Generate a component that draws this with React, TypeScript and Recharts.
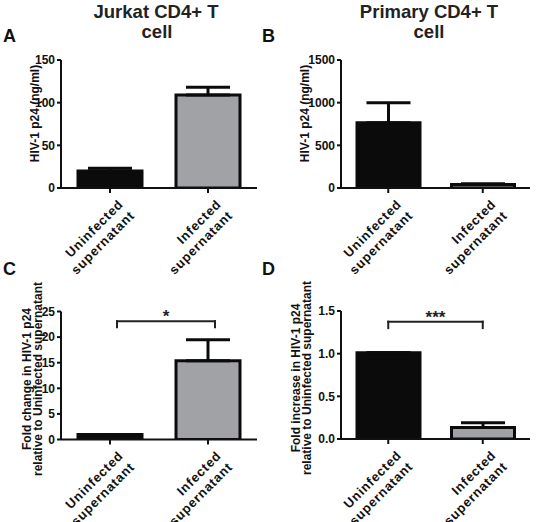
import React from 'react';
import { BarChart, Bar, XAxis, YAxis, Cell, ErrorBar, ReferenceLine } from 'recharts';

const FONT = "'Liberation Sans', Arial, Helvetica, sans-serif";

const categories = ['Uninfected', 'Infected'];
const categoryLines = [
  ['Uninfected', 'supernatant'],
  ['Infected', 'supernatant'],
];
const barColors = ['#0b0b0b', '#a1a2a6'];

// Panel A: Jurkat CD4+ T cell, HIV-1 p24 (ng/ml)
const jurkatP24 = [20, 109];
const jurkatP24Err = [3, 9];
const jurkatP24Ticks = [0, 50, 100, 150];

// Panel B: Primary CD4+ T cell, HIV-1 p24 (ng/ml)
const primaryP24 = [765, 42];
const primaryP24Err = [235, 8];
const primaryP24Ticks = [0, 500, 1000, 1500];

// Panel C: Jurkat fold change
const jurkatFold = [1, 15.4];
const jurkatFoldErr = [0, 4.1];
const jurkatFoldTicks = [0, 5, 10, 15, 20, 25];

// Panel D: Primary fold increase
const primaryFold = [1.01, 0.135];
const primaryFoldErr = [0, 0.055];
const primaryFoldTicks = [0, 0.5, 1.0, 1.5];

// significance brackets
const jurkatBracket = { top: 23.1, leg: 21.9, mark: '*' };
const primaryBracket = { top: 1.375, leg: 1.3, mark: '***' };

const buildRows = (vals: number[], errs: number[]) =>
  categories.map((name, i) => ({ name, value: vals[i], err: [0, errs[i]] }));

const XTick = (props: any) => {
  const { x, y, payload } = props;
  const lines = categoryLines[payload.index] || [String(payload.value)];
  return (
    <g transform={`translate(${x + 14},${y + 10})`}>
      <text
        transform="rotate(-45)"
        textAnchor="end"
        fontFamily={FONT}
        fontWeight="bold"
        fontSize={13}
        style={{ letterSpacing: '0.8px' }}
        fill="#111"
      >
        {lines.map((l: string, i: number) => (
          <tspan key={i} x={0} y={i * 16}>
            {l}
          </tspan>
        ))}
      </text>
    </g>
  );
};

const YLabel = (props: any) => {
  const { lines, cx, cy } = props;
  return (
    <g>
      {lines.map((l: string, i: number) => (
        <text
          key={i}
          x={cx[i]}
          y={cy}
          transform={`rotate(-90, ${cx[i]}, ${cy})`}
          textAnchor="middle"
          dominantBaseline="central"
          fontFamily={FONT}
          fontWeight="bold"
          fontSize={12}
          fill="#111"
        >
          {l}
        </text>
      ))}
    </g>
  );
};

const BracketLine = (p: any) => {
  const { x1, y1, x2, y2, dx, mark } = p;
  return (
    <g>
      <line
        x1={x1 + dx}
        y1={y1}
        x2={x2 + dx}
        y2={y2}
        stroke="#222"
        strokeWidth={2}
        strokeLinecap="square"
      />
      {mark ? (
        <text
          x={(x1 + x2) / 2 + dx}
          y={y1 + 1}
          textAnchor="middle"
          fontFamily={FONT}
          fontWeight="bold"
          fontSize={17}
          fill="#222"
        >
          {mark}
        </text>
      ) : null}
    </g>
  );
};

type PanelProps = {
  left: number;
  top: number;
  width: number;
  height: number;
  marginTop: number;
  marginRight: number;
  marginBottom: number;
  yAxisWidth: number;
  xAxisHeight: number;
  vals: number[];
  errs: number[];
  ticks: number[];
  fmt?: (v: number) => string;
  yLines: string[];
  yCx: number[];
  yCy: number;
  barSize: number;
  bracket?: { top: number; leg: number; mark: string };
  bracketDx?: number;
};

const Panel = (pp: PanelProps) => {
  const data = buildRows(pp.vals, pp.errs);
  const dx = pp.bracketDx || 0;
  const axisStyle = { stroke: '#111', strokeWidth: 2 };
  return (
    <div style={{ position: 'absolute', left: pp.left, top: pp.top }}>
      <BarChart
        width={pp.width}
        height={pp.height}
        data={data}
        margin={{ top: pp.marginTop, right: pp.marginRight, left: 0, bottom: pp.marginBottom }}
      >
        <XAxis
          dataKey="name"
          interval={0}
          height={pp.xAxisHeight}
          tick={<XTick />}
          tickSize={5}
          tickMargin={2}
          axisLine={axisStyle}
          tickLine={axisStyle}
        />
        <YAxis
          type="number"
          width={pp.yAxisWidth}
          domain={[0, pp.ticks[pp.ticks.length - 1]]}
          ticks={pp.ticks}
          allowDataOverflow
          tickFormatter={pp.fmt}
          tickSize={4}
          tickMargin={2}
          axisLine={axisStyle}
          tickLine={axisStyle}
          tick={{ fontFamily: FONT, fontWeight: 'bold', fontSize: 12, fill: '#111' }}
          label={<YLabel lines={pp.yLines} cx={pp.yCx} cy={pp.yCy} />}
        />
        <Bar
          dataKey="value"
          barSize={pp.barSize}
          stroke="#0b0b0b"
          strokeWidth={3}
          isAnimationActive={false}
        >
          {data.map((d, i) => (
            <Cell key={d.name} fill={barColors[i]} />
          ))}
          <ErrorBar
            dataKey="err"
            direction="y"
            width={22}
            stroke="#0b0b0b"
            strokeWidth={3}
            isAnimationActive={false}
          />
        </Bar>
        {pp.bracket ? (
          <ReferenceLine
            segment={[
              { x: categories[0], y: pp.bracket.top },
              { x: categories[1], y: pp.bracket.top },
            ]}
            shape={(p: any) => <BracketLine {...p} dx={dx} mark={pp.bracket!.mark} />}
          />
        ) : null}
        {pp.bracket ? (
          <ReferenceLine
            segment={[
              { x: categories[0], y: pp.bracket.top },
              { x: categories[0], y: pp.bracket.leg },
            ]}
            shape={(p: any) => <BracketLine {...p} dx={dx} mark="" />}
          />
        ) : null}
        {pp.bracket ? (
          <ReferenceLine
            segment={[
              { x: categories[1], y: pp.bracket.top },
              { x: categories[1], y: pp.bracket.leg },
            ]}
            shape={(p: any) => <BracketLine {...p} dx={dx} mark="" />}
          />
        ) : null}
      </BarChart>
    </div>
  );
};

const titleStyle = {
  fontFamily: FONT,
  fontWeight: 'bold' as const,
  fontSize: 18.5,
  fill: '#222',
};
const letterStyle = {
  fontFamily: FONT,
  fontWeight: 'bold' as const,
  fontSize: 18,
  fill: '#111',
};

export default function App() {
  return (
    <div
      style={{
        position: 'absolute',
        left: 0,
        top: 0,
        width: 539,
        height: 522,
        background: '#fff',
        overflow: 'hidden',
      }}
    >
      <Panel
        left={0}
        top={0}
        width={270}
        height={281}
        marginTop={60}
        marginRight={13}
        marginBottom={20}
        yAxisWidth={61}
        xAxisHeight={73}
        vals={jurkatP24}
        errs={jurkatP24Err}
        ticks={jurkatP24Ticks}
        yLines={['HIV-1 p24 (ng/ml)']}
        yCx={[35]}
        yCy={113.5}
        barSize={64}
      />
      <Panel
        left={270}
        top={0}
        width={269}
        height={281}
        marginTop={60}
        marginRight={9}
        marginBottom={20}
        yAxisWidth={71}
        xAxisHeight={73}
        vals={primaryP24}
        errs={primaryP24Err}
        ticks={primaryP24Ticks}
        yLines={['HIV-1 p24 (ng/ml)']}
        yCx={[35]}
        yCy={113.5}
        barSize={63}
      />
      <Panel
        left={0}
        top={261}
        width={270}
        height={261}
        marginTop={50.5}
        marginRight={13}
        marginBottom={0}
        yAxisWidth={61}
        xAxisHeight={82.5}
        vals={jurkatFold}
        errs={jurkatFoldErr}
        ticks={jurkatFoldTicks}
        yLines={['Fold change in HIV-1 p24', 'relative to Uninfected supernatant']}
        yCx={[26.5, 38]}
        yCy={118}
        barSize={64}
        bracket={jurkatBracket}
        bracketDx={7}
      />
      <Panel
        left={270}
        top={261}
        width={269}
        height={261}
        marginTop={50}
        marginRight={9}
        marginBottom={0}
        yAxisWidth={71}
        xAxisHeight={83}
        vals={primaryFold}
        errs={primaryFoldErr}
        ticks={primaryFoldTicks}
        fmt={(v: number) => v.toFixed(1)}
        yLines={['Fold increase in HIV-1 p24', 'relative to Uninfected supernatant']}
        yCx={[25.5, 37]}
        yCy={117}
        barSize={63}
        bracket={primaryBracket}
        bracketDx={0}
      />
      <svg
        width={539}
        height={522}
        style={{ position: 'absolute', left: 0, top: 0, pointerEvents: 'none' }}
      >
        <text x={156} y={18} textAnchor="middle" {...titleStyle}>
          Jurkat CD4+ T
        </text>
        <text x={157} y={38} textAnchor="middle" {...titleStyle}>
          cell
        </text>
        <text x={429} y={18} textAnchor="middle" {...titleStyle}>
          Primary CD4+ T
        </text>
        <text x={429} y={38} textAnchor="middle" {...titleStyle}>
          cell
        </text>
        <text x={3} y={42} {...letterStyle}>A</text>
        <text x={262} y={42} {...letterStyle}>B</text>
        <text x={3} y={274.5} {...letterStyle}>C</text>
        <text x={262} y={274.5} {...letterStyle}>D</text>
      </svg>
    </div>
  );
}
